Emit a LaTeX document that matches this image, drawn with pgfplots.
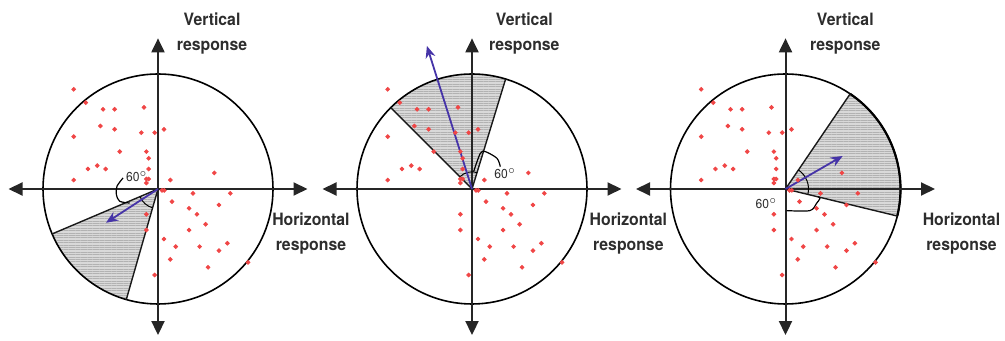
\documentclass[border=0pt]{standalone}
\usepackage{pgfplots}
\pgfplotsset{compat=1.18}
\usepackage{pgfplotstable}
\usetikzlibrary{arrows.meta,patterns.meta}
\usepackage{fontspec}
\setmainfont{TeX Gyre Heros}[FakeStretch=0.93]

\definecolor{dotred}{RGB}{240,70,70}
\definecolor{vecblue}{RGB}{70,52,168}
\definecolor{inkgray}{RGB}{45,45,45}

% responses, in units of the circle radius
\pgfplotstableread{
x y
-0.733 0.867
-0.629 0.751
-0.478 0.693
-0.377 0.693
-0.122 0.710
-0.501 0.548
-0.377 0.519
-0.145 0.490
-0.029 0.490
0.052 0.519
-0.733 0.455
-0.333 0.325
-0.101 0.325
-0.081 0.267
-0.609 0.174
-0.528 0.203
-0.455 0.174
-0.081 0.174
-0.733 0.078
-0.101 0.087
-0.081 0.087
-0.101 0.052
0.107 0.078
0.490 0.140
0.035 -0.012
0.055 -0.012
0.304 -0.038
0.629 -0.038
0.122 -0.110
0.270 -0.168
0.530 -0.139
0.339 -0.220
0.414 -0.307
-0.101 -0.220
-0.101 -0.357
0.270 -0.357
0.052 -0.435
0.154 -0.501
0.362 -0.501
0.603 -0.472
0.530 -0.536
0.107 -0.612
0.435 -0.681
0.783 -0.638
-0.029 -0.748
}\responses

\pgfplotsset{
  polarpanel/.style={
    anchor=origin, x=57.5pt, y=57.5pt,
    xmin=-1.3, xmax=1.3, ymin=-1.3, ymax=1.3,
    axis lines=none, clip=false,
  },
}
\tikzset{
  sectorfill/.style={fill=gray!30},
  sectorlines/.style={pattern={Lines[angle=0,distance=1.2pt,line width=0.4pt]}, pattern color=gray!60},
  axisarrow/.style={line width=1pt, draw=black!85,
    {Triangle[length=7pt,width=6.5pt]}-{Triangle[length=7pt,width=6.5pt]}},
  vec/.style={vecblue, line width=0.9pt, -{Stealth[length=6pt,width=5pt]}},
  lbl/.style={font=\bfseries\fontsize{8.5}{12.5}\selectfont, text=inkgray, align=center, inner sep=0pt},
  deg/.style={font=\fontsize{6.5}{7}\selectfont, text=inkgray, inner sep=0pt},
  edge/.style={line width=0.7pt, black!90},
}
\newcommand{\responsedots}{%
  \addplot[only marks, mark=*, mark size=0.95pt, color=dotred, mark options={draw=none}] table {\responses};}

\begin{document}
\begin{tikzpicture}

% ---- panel 1: window pointing down-left
\begin{axis}[polarpanel, at={(79pt,76pt)}]
  \fill[sectorfill] (axis cs:0,0) -- ++(203:57.5pt) arc[start angle=203, end angle=254, radius=57.5pt] -- cycle;
  \fill[sectorlines] (axis cs:0,0) -- ++(203:57.5pt) arc[start angle=203, end angle=254, radius=57.5pt] -- cycle;
  \responsedots
  \draw[line width=0.8pt] (axis cs:0,0) circle[radius=57.5pt];
  \draw[axisarrow] (axis cs:-1.3,0) -- (axis cs:1.3,0);
  \draw[axisarrow] (axis cs:0,-1.27) -- (axis cs:0,1.31);
  \draw[edge] (axis cs:0,0) -- ++(203:57.5pt);
  \draw[edge] (axis cs:0,0) -- ++(254:57.5pt);
  \draw[line width=0.5pt] (axis cs:0,0) ++(203:9.8pt) arc[start angle=203, end angle=254, radius=9.8pt];
  \addplot[smooth, black, line width=0.6pt] coordinates {(-0.304,0.096) (-0.357,0.023) (-0.362,-0.049) (-0.333,-0.107) (-0.246,-0.122)};
  \node[deg] at (axis cs:-0.183,0.107) {60$^{\circ}$};
  \draw[vec] (axis cs:0,0) -- ++(213:31pt);
  \node[lbl] at (axis cs:0.47,1.35) {Vertical\\response};
  \node[lbl] at (axis cs:1.33,-0.385) {Horizontal\\response};
\end{axis}

% ---- panel 2: window pointing up-left
\begin{axis}[polarpanel, at={(236pt,76pt)}]
  \fill[sectorfill] (axis cs:0,0) -- ++(73:57.5pt) arc[start angle=73, end angle=135, radius=57.5pt] -- cycle;
  \fill[sectorlines] (axis cs:0,0) -- ++(73:57.5pt) arc[start angle=73, end angle=135, radius=57.5pt] -- cycle;
  \responsedots
  \draw[line width=0.8pt] (axis cs:0,0) circle[radius=57.5pt];
  \draw[axisarrow] (axis cs:-1.3,0) -- (axis cs:1.3,0);
  \draw[axisarrow] (axis cs:0,-1.27) -- (axis cs:0,1.31);
  \draw[edge] (axis cs:0,0) -- ++(73:57.5pt);
  \draw[edge] (axis cs:0,0) -- ++(135:57.5pt);
  \draw[line width=0.5pt] (axis cs:0,0) ++(73:8.6pt) arc[start angle=73, end angle=135, radius=8.6pt];
  \addplot[smooth, black, line width=0.6pt] coordinates {(0.014,0.151) (0.072,0.31) (0.116,0.325) (0.217,0.267) (0.246,0.194)};
  \node[deg] at (axis cs:0.29,0.136) {60$^{\circ}$};
  \draw[vec] (axis cs:0,0) -- ++(107.5:75pt);
  \node[lbl] at (axis cs:0.455,1.35) {Vertical\\response};
  \node[lbl] at (axis cs:1.36,-0.385) {Horizontal\\response};
\end{axis}

% ---- panel 3: window pointing right
\begin{axis}[polarpanel, at={(392.75pt,76pt)}]
  \fill[sectorfill] (axis cs:0,0) -- ++(-13.6:57.5pt) arc[start angle=-13.6, end angle=55.8, radius=57.5pt] -- cycle;
  \fill[sectorlines] (axis cs:0,0) -- ++(-13.6:57.5pt) arc[start angle=-13.6, end angle=55.8, radius=57.5pt] -- cycle;
  \responsedots
  \draw[line width=0.8pt] (axis cs:0,0) circle[radius=57.5pt];
  \draw[line width=1.1pt] (axis cs:0,0) ++(-13.6:57.5pt) arc[start angle=-13.6, end angle=55.8, radius=57.5pt];
  \draw[axisarrow] (axis cs:-1.3,0) -- (axis cs:1.3,0);
  \draw[axisarrow] (axis cs:0,-1.27) -- (axis cs:0,1.31);
  \draw[edge] (axis cs:0,0) -- ++(-13.6:57.5pt);
  \draw[edge] (axis cs:0,0) -- ++(55.8:57.5pt);
  \draw[line width=0.5pt] (axis cs:0,0) ++(-13.6:11.5pt) arc[start angle=-13.6, end angle=55.8, radius=11.5pt];
  \addplot[smooth, black, line width=0.6pt] coordinates {(0.009,-0.188) (0.212,-0.188) (0.27,-0.125) (0.30,-0.081) (0.284,-0.067)};
  \node[deg] at (axis cs:-0.165,-0.125) {60$^{\circ}$};
  \draw[vec] (axis cs:0,0) -- ++(30:33pt);
  \node[lbl] at (axis cs:0.52,1.35) {Vertical\\response};
  \node[lbl] at (axis cs:1.53,-0.385) {Horizontal\\response};
\end{axis}

\pgfresetboundingbox
\path[use as bounding box] (0,0) rectangle (502.5pt,170.5pt);
\end{tikzpicture}
\end{document}
